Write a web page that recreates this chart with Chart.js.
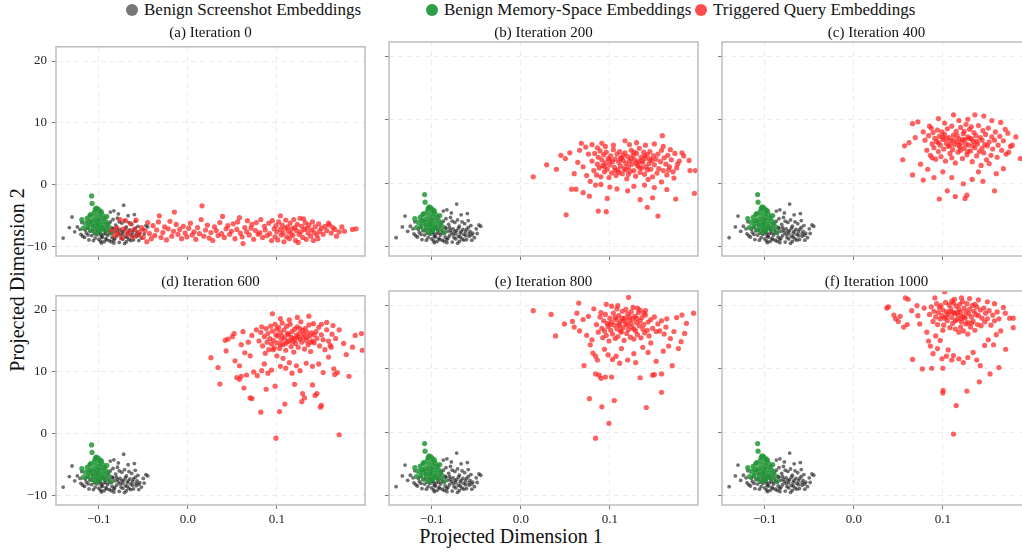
<!DOCTYPE html>
<html>
<head>
<meta charset="utf-8">
<script src="https://cdn.jsdelivr.net/npm/chart.js@4.4.1/dist/chart.umd.min.js"></script>
<style>
html,body{margin:0;padding:0;width:1022px;height:552px;overflow:hidden;background:#fff;}
body{position:relative;font-family:"Liberation Serif","DejaVu Serif",serif;color:#111;}
canvas{position:absolute;}
.ttl{position:absolute;font-size:15px;white-space:nowrap;transform:translate(-50%,-50%);}
.leg{position:absolute;top:1px;height:18px;display:flex;align-items:center;font-size:17px;white-space:nowrap;}
.leg span.dot{display:inline-block;width:12px;height:12px;border-radius:50%;margin-right:6px;}
.axl{position:absolute;font-size:20px;white-space:nowrap;transform:translate(-50%,-50%);}
</style>
</head>
<body>
<script>
// ---------------- data ----------------
const legendLabels = ["Benign Screenshot Embeddings", "Benign Memory-Space Embeddings", "Triggered Query Embeddings"];
const panelTitles = ["(a) Iteration 0", "(b) Iteration 200", "(c) Iteration 400", "(d) Iteration 600", "(e) Iteration 800", "(f) Iteration 1000"];
const xTickValues = [-0.1, 0.0, 0.1];
const yTickValues = [-10, 0, 10, 20];
const xLabel = "Projected Dimension 1";
const yLabel = "Projected Dimension 2";

const benignScreenshot = [[-0.140,-8.6],[-0.133,-6.9],[-0.130,-5.2],[-0.124,-6.8],[-0.127,-7.6],[-0.121,-7.2],[-0.118,-8.3],[-0.116,-8.5],[-0.119,-6.1],[-0.114,-7.8],[-0.112,-7.0],[-0.111,-8.9],[-0.110,-7.5],[-0.108,-8.2],[-0.107,-6.6],[-0.106,-9.0],[-0.105,-7.9],[-0.104,-8.6],[-0.103,-7.3],[-0.102,-8.1],[-0.101,-6.4],[-0.100,-8.8],[-0.099,-7.7],[-0.098,-9.1],[-0.097,-8.4],[-0.096,-7.0],[-0.095,-8.0],[-0.094,-9.2],[-0.093,-7.5],[-0.092,-8.7],[-0.091,-6.8],[-0.090,-8.2],[-0.089,-7.4],[-0.088,-9.0],[-0.087,-6.0],[-0.086,-7.9],[-0.085,-8.5],[-0.084,-7.1],[-0.083,-4.2],[-0.083,-8.9],[-0.082,-7.6],[-0.081,-6.5],[-0.080,-8.3],[-0.079,-5.4],[-0.078,-7.8],[-0.077,-9.3],[-0.076,-7.2],[-0.075,-8.6],[-0.074,-6.2],[-0.073,-8.0],[-0.072,-3.3],[-0.072,-7.5],[-0.071,-9.5],[-0.070,-8.4],[-0.069,-6.8],[-0.068,-7.9],[-0.067,-5.0],[-0.066,-8.8],[-0.065,-7.3],[-0.064,-8.1],[-0.063,-6.4],[-0.062,-7.7],[-0.061,-8.9],[-0.060,-4.8],[-0.059,-7.0],[-0.058,-8.4],[-0.057,-7.6],[-0.056,-6.7],[-0.055,-8.2],[-0.054,-7.9],[-0.052,-8.6],[-0.050,-7.2],[-0.049,-7.95],[-0.047,-6.6],[-0.045,-6.8],[-0.098,-8.0],[-0.094,-7.2],[-0.091,-8.9],[-0.088,-7.8],[-0.085,-7.0],[-0.082,-8.7],[-0.079,-7.4],[-0.076,-8.1],[-0.073,-8.8],[-0.070,-7.1],[-0.067,-7.6],[-0.064,-9.0],[-0.061,-7.3],[-0.058,-8.0],[-0.096,-8.5],[-0.092,-7.9],[-0.086,-9.2],[-0.080,-7.0],[-0.074,-7.6],[-0.068,-8.5],[-0.062,-8.3],[-0.107,-7.4],[-0.112,-8.1],[-0.101,-7.6],[-0.089,-6.3],[-0.077,-6.0],[-0.071,-5.8],[-0.084,-5.6],[-0.066,-6.1],[-0.059,-5.9],[-0.100,-5.7],[-0.093,-5.3],[-0.109,-6.0],[-0.120,-8.0],[-0.115,-7.3],[-0.097,-9.4],[-0.083,-9.4],[-0.069,-9.2],[-0.055,-9.0],[-0.078,-4.7],[-0.087,-4.4]];

const benignMemory = [[-0.108,-1.8],[-0.1075,-3.0],[-0.103,-3.75],[-0.101,-3.9],[-0.0985,-4.2],[-0.105,-4.5],[-0.100,-4.7],[-0.096,-4.9],[-0.110,-5.0],[-0.104,-5.2],[-0.099,-5.3],[-0.094,-5.5],[-0.119,-5.6],[-0.113,-5.4],[-0.107,-5.7],[-0.102,-5.8],[-0.097,-5.9],[-0.092,-6.0],[-0.115,-6.2],[-0.110,-6.3],[-0.105,-6.1],[-0.100,-6.4],[-0.095,-6.5],[-0.090,-6.3],[-0.112,-6.8],[-0.106,-6.9],[-0.101,-7.0],[-0.096,-6.9],[-0.088,-6.9],[-0.108,-7.4],[-0.099,-7.5],[-0.093,-7.3],[-0.103,-7.8],[-0.086,-7.7],[-0.117,-7.0],[-0.104,-4.0],[-0.097,-4.4],[-0.109,-4.8],[-0.091,-5.1],[-0.103,-6.6],[-0.098,-7.2],[-0.111,-5.9]];

const triggeredIter0 = [[-0.085,-7.4],[-0.082,-8.2],[-0.080,-6.9],[-0.078,-7.8],[-0.076,-5.6],[-0.074,-8.6],[-0.072,-7.1],[-0.070,-5.8],[-0.068,-8.0],[-0.066,-7.5],[-0.064,-6.3],[-0.062,-8.4],[-0.060,-7.2],[-0.058,-5.7],[-0.056,-8.1],[-0.054,-7.6],[-0.052,-6.9],[-0.050,-8.5],[-0.048,-7.4],[-0.046,-9.2],[-0.045,-6.1],[-0.043,-7.9],[-0.041,-8.7],[-0.039,-6.6],[-0.037,-8.2],[-0.035,-7.3],[-0.033,-6.0],[-0.032,-5.0],[-0.030,-8.5],[-0.028,-7.7],[-0.026,-6.8],[-0.024,-8.9],[-0.022,-7.1],[-0.020,-5.9],[-0.018,-8.3],[-0.016,-7.5],[-0.015,-4.4],[-0.013,-6.4],[-0.011,-8.0],[-0.009,-7.2],[-0.007,-8.7],[-0.005,-6.7],[-0.003,-7.8],[-0.001,-8.4],[0.001,-7.0],[0.003,-6.2],[0.005,-8.1],[0.007,-7.6],[0.009,-8.8],[0.011,-6.9],[0.013,-7.9],[0.015,-5.6],[0.016,-3.4],[0.018,-8.3],[0.020,-7.3],[0.022,-6.5],[0.024,-8.6],[0.026,-7.7],[0.028,-9.0],[0.030,-6.8],[0.032,-7.4],[0.034,-8.2],[0.036,-6.1],[0.038,-7.9],[0.039,-5.1],[0.041,-8.5],[0.043,-7.1],[0.045,-6.6],[0.047,-8.0],[0.049,-7.5],[0.051,-6.3],[0.053,-8.7],[0.055,-7.2],[0.056,-6.0],[0.058,-5.3],[0.059,-7.8],[0.061,-8.4],[0.062,-9.5],[0.064,-6.9],[0.066,-7.6],[0.067,-5.8],[0.069,-8.1],[0.071,-7.0],[0.072,-6.4],[0.074,-8.8],[0.076,-7.4],[0.077,-6.1],[0.079,-8.0],[0.081,-7.7],[0.082,-5.6],[0.084,-8.5],[0.086,-6.7],[0.087,-7.3],[0.089,-8.2],[0.091,-6.2],[0.092,-7.9],[0.094,-9.0],[0.095,-5.8],[0.097,-7.1],[0.098,-8.4],[0.099,-6.6],[0.100,-7.6],[0.101,-8.9],[0.102,-6.0],[0.104,-5.0],[0.104,-7.2],[0.105,-8.1],[0.106,-6.5],[0.107,-7.8],[0.108,-9.2],[0.109,-7.0],[0.110,-5.7],[0.111,-8.4],[0.112,-6.8],[0.113,-7.5],[0.114,-8.7],[0.115,-6.2],[0.116,-7.9],[0.117,-7.1],[0.118,-8.2],[0.119,-5.6],[0.120,-6.9],[0.121,-9.0],[0.122,-7.4],[0.123,-6.4],[0.124,-9.3],[0.125,-8.0],[0.126,-5.4],[0.127,-7.6],[0.128,-6.7],[0.129,-8.5],[0.130,-5.5],[0.131,-7.2],[0.132,-6.1],[0.133,-8.8],[0.134,-7.0],[0.135,-7.8],[0.136,-6.5],[0.138,-8.3],[0.139,-7.3],[0.140,-6.0],[0.141,-9.0],[0.142,-7.7],[0.143,-6.8],[0.145,-8.1],[0.146,-8.7],[0.147,-6.3],[0.148,-7.5],[0.150,-7.0],[0.152,-8.0],[0.154,-6.7],[0.156,-7.4],[0.158,-6.2],[0.159,-6.5],[0.161,-7.8],[0.163,-6.9],[0.165,-7.2],[0.167,-8.3],[0.170,-7.6],[0.173,-6.8],[0.176,-7.5],[0.185,-7.2],[0.189,-7.1]];

const triggeredIter200 = [[0.014,1.0],[0.029,2.9],[0.040,2.2],[0.051,-5.0],[0.057,-0.95],[0.062,-0.95],[0.068,6.3],[0.080,6.1],[0.091,6.3],[0.117,6.7],[0.159,7.5],[0.181,4.8],[0.189,3.6],[0.190,2.0],[0.196,2.0],[0.195,-1.6],[0.174,-2.5],[0.154,-5.2],[0.142,-3.8],[0.087,-4.4],[0.096,-4.5],[0.097,-2.4],[0.077,-2.05],[0.070,-1.5],[0.134,-2.6],[0.148,-2.3],[0.164,-1.0],[0.172,0.8],[0.183,4.3],[0.050,3.9],[0.045,4.4],[0.055,4.8],[0.060,1.5],[0.064,3.3],[0.066,5.2],[0.073,5.7],[0.078,0.3],[0.084,-0.3],[0.090,-0.2],[0.100,-0.6],[0.108,-0.9],[0.120,-1.2],[0.127,-0.5],[0.139,-0.3],[0.150,-0.7],[0.158,0.2],[0.166,2.1],[0.176,3.0],[0.168,5.3],[0.160,5.8],[0.150,6.2],[0.140,6.0],[0.130,6.4],[0.122,6.1],[0.104,6.0],[0.095,5.8],[0.086,5.6],[0.076,4.6],[0.070,2.6],[0.074,1.2],[0.080,3.5],[0.082,2.0],[0.083,4.7],[0.085,1.3],[0.086,3.0],[0.087,4.1],[0.088,2.4],[0.089,5.1],[0.090,1.0],[0.091,3.7],[0.092,2.8],[0.093,4.5],[0.094,1.8],[0.095,3.2],[0.096,4.9],[0.097,2.2],[0.098,3.9],[0.099,0.9],[0.100,2.9],[0.101,4.3],[0.102,1.6],[0.103,3.4],[0.104,5.3],[0.105,2.5],[0.106,3.8],[0.107,1.2],[0.108,4.6],[0.109,2.1],[0.110,3.3],[0.111,5.0],[0.112,2.7],[0.113,4.0],[0.114,1.5],[0.115,3.6],[0.116,2.3],[0.117,4.8],[0.118,3.1],[0.119,0.7],[0.120,4.2],[0.121,2.6],[0.122,3.5],[0.123,1.9],[0.124,5.2],[0.125,3.0],[0.126,4.4],[0.127,2.0],[0.128,3.7],[0.129,1.1],[0.130,4.7],[0.131,2.8],[0.132,3.4],[0.133,5.5],[0.134,1.7],[0.135,4.1],[0.136,2.4],[0.137,3.2],[0.138,4.9],[0.139,1.4],[0.140,3.9],[0.141,2.6],[0.142,4.5],[0.143,0.6],[0.144,3.1],[0.145,5.0],[0.146,2.2],[0.147,3.6],[0.148,1.0],[0.149,4.3],[0.150,2.9],[0.152,3.8],[0.153,1.6],[0.154,4.6],[0.155,2.3],[0.157,3.4],[0.158,5.2],[0.160,2.0],[0.161,4.0],[0.163,3.0],[0.164,1.3],[0.165,4.4],[0.167,2.6],[0.169,3.7],[0.171,1.8],[0.173,4.7],[0.175,2.4],[0.178,3.5],[0.106,2.0],[0.112,3.9],[0.118,2.1],[0.124,3.9],[0.130,3.2],[0.136,3.6],[0.142,2.1],[0.100,3.6],[0.094,2.6],[0.115,4.4],[0.127,4.9],[0.121,1.4],[0.133,2.5],[0.110,1.7],[0.139,4.3],[0.145,3.8]];

const triggeredIter400 = [[0.055,3.7],[0.057,5.9],[0.066,1.3],[0.078,0.5],[0.066,9.4],[0.072,9.7],[0.096,-2.5],[0.114,-2.1],[0.125,-2.4],[0.127,-1.9],[0.105,-1.2],[0.158,-1.2],[0.112,10.8],[0.136,10.8],[0.146,10.6],[0.182,7.3],[0.187,3.9],[0.174,4.9],[0.168,2.3],[0.145,0.3],[0.123,-0.1],[0.090,0.9],[0.100,1.8],[0.133,0.6],[0.160,1.5],[0.170,8.5],[0.165,9.6],[0.155,9.9],[0.095,10.2],[0.085,9.0],[0.078,8.1],[0.069,7.2],[0.062,6.4],[0.075,3.0],[0.083,2.2],[0.088,4.0],[0.110,0.9],[0.140,1.8],[0.152,3.1],[0.178,6.0],[0.080,6.8],[0.082,5.2],[0.084,7.5],[0.086,4.4],[0.088,6.2],[0.089,8.0],[0.090,5.6],[0.091,7.1],[0.092,3.8],[0.093,6.6],[0.094,8.4],[0.095,5.0],[0.096,7.4],[0.097,6.0],[0.098,4.2],[0.099,8.1],[0.100,6.9],[0.101,5.4],[0.102,7.7],[0.103,3.5],[0.104,6.3],[0.105,8.6],[0.106,5.8],[0.107,7.2],[0.108,4.7],[0.109,6.7],[0.110,9.0],[0.111,5.3],[0.112,7.6],[0.113,6.1],[0.114,3.2],[0.115,8.2],[0.116,6.5],[0.117,4.9],[0.118,7.0],[0.119,5.7],[0.120,8.8],[0.121,6.4],[0.122,3.9],[0.123,7.8],[0.124,5.5],[0.125,6.9],[0.126,9.3],[0.127,4.5],[0.128,7.3],[0.129,6.0],[0.130,8.5],[0.131,5.1],[0.132,7.0],[0.133,3.4],[0.134,6.6],[0.135,8.0],[0.136,5.6],[0.137,7.5],[0.138,4.3],[0.139,6.2],[0.140,9.1],[0.141,5.0],[0.142,7.2],[0.143,2.8],[0.144,6.8],[0.145,8.3],[0.146,4.8],[0.147,6.1],[0.148,7.7],[0.149,3.7],[0.150,5.9],[0.151,8.7],[0.152,6.5],[0.154,4.4],[0.155,7.3],[0.156,5.4],[0.158,6.8],[0.159,8.1],[0.161,4.1],[0.162,6.0],[0.164,7.4],[0.166,5.2],[0.168,6.7],[0.171,4.6],[0.173,7.9],[0.176,5.8],[0.108,6.0],[0.112,6.8],[0.118,6.0],[0.122,6.9],[0.126,6.2],[0.130,7.1],[0.134,5.9],[0.138,6.6],[0.116,7.5],[0.120,5.2],[0.124,8.2],[0.128,5.0],[0.100,7.3],[0.104,7.0],[0.095,6.4],[0.132,8.9],[0.144,5.5],[0.110,4.0],[0.102,9.5],[0.118,9.9],[0.128,10.1],[0.087,8.7]];

const triggeredIter600 = [[0.095,19.4],[0.123,18.8],[0.026,12.3],[0.034,10.7],[0.036,8.05],[0.043,13.4],[0.042,15.1],[0.045,15.3],[0.072,5.7],[0.082,3.5],[0.103,3.6],[0.099,-0.7],[0.170,-0.15],[0.149,4.3],[0.150,4.6],[0.195,16.2],[0.196,13.5],[0.181,9.3],[0.168,9.9],[0.165,9.6],[0.143,6.2],[0.145,6.5],[0.128,5.2],[0.131,5.8],[0.140,7.9],[0.129,6.5],[0.055,9.1],[0.058,8.8],[0.058,11.0],[0.060,9.3],[0.063,7.4],[0.066,9.5],[0.070,5.8],[0.074,10.0],[0.078,9.4],[0.083,10.2],[0.086,11.3],[0.090,9.8],[0.094,10.3],[0.098,7.7],[0.104,10.9],[0.107,12.2],[0.110,10.6],[0.114,11.5],[0.117,9.8],[0.122,11.0],[0.126,10.2],[0.133,11.4],[0.140,10.9],[0.147,11.3],[0.152,9.9],[0.158,12.4],[0.164,10.5],[0.178,12.8],[0.188,15.9],[0.175,14.6],[0.185,14.0],[0.064,13.1],[0.070,12.6],[0.087,13.0],[0.100,12.6],[0.096,13.6],[0.068,14.8],[0.052,16.2],[0.050,15.7],[0.062,16.5],[0.072,15.9],[0.060,14.4],[0.053,11.8],[0.088,7.2],[0.120,8.0],[0.109,4.8],[0.161,14.0],[0.170,16.8],[0.163,17.5],[0.156,18.0],[0.150,17.7],[0.136,19.0],[0.114,18.4],[0.104,18.6],[0.083,17.3],[0.077,16.8],[0.080,15.0],[0.082,16.4],[0.084,14.2],[0.086,15.7],[0.088,17.0],[0.089,14.8],[0.090,16.2],[0.091,13.6],[0.092,15.4],[0.093,17.4],[0.094,14.5],[0.095,16.6],[0.096,15.1],[0.097,13.9],[0.098,17.7],[0.099,16.0],[0.100,14.7],[0.101,15.8],[0.102,17.2],[0.103,13.8],[0.104,16.4],[0.105,15.2],[0.106,17.9],[0.107,14.4],[0.108,16.8],[0.109,15.5],[0.110,13.5],[0.111,17.4],[0.112,14.9],[0.113,16.1],[0.114,15.0],[0.115,17.7],[0.116,14.1],[0.117,16.5],[0.118,15.4],[0.119,13.2],[0.120,16.9],[0.121,14.6],[0.122,15.9],[0.123,17.3],[0.124,14.0],[0.125,16.2],[0.126,15.3],[0.127,18.1],[0.128,14.8],[0.129,16.7],[0.130,15.6],[0.131,13.7],[0.132,17.0],[0.133,15.1],[0.134,16.4],[0.135,14.4],[0.136,17.6],[0.137,15.8],[0.138,13.3],[0.139,16.3],[0.140,15.0],[0.141,17.8],[0.142,14.7],[0.144,16.5],[0.145,15.4],[0.147,17.2],[0.148,14.2],[0.150,16.0],[0.152,15.2],[0.154,13.6],[0.156,16.8],[0.158,15.0],[0.160,14.3],[0.162,16.1],[0.166,15.4],[0.106,15.8],[0.112,16.2],[0.118,14.9],[0.124,15.6],[0.130,16.1],[0.120,15.3],[0.110,14.6],[0.100,16.9],[0.126,17.0],[0.134,15.6],[0.142,16.0],[0.116,15.6],[0.104,14.4],[0.138,14.8]];

const triggeredIter800 = [[0.014,19.2],[0.034,18.6],[0.049,17.1],[0.039,15.2],[0.065,20.4],[0.121,21.3],[0.194,18.8],[0.180,14.3],[0.177,13.2],[0.170,10.5],[0.158,6.3],[0.141,3.9],[0.099,1.4],[0.084,-0.95],[0.091,4.0],[0.105,5.0],[0.077,5.3],[0.071,10.5],[0.084,9.2],[0.090,8.5],[0.088,9.0],[0.095,8.7],[0.102,8.7],[0.134,8.6],[0.148,9.0],[0.150,9.1],[0.158,9.2],[0.060,16.6],[0.058,17.5],[0.063,18.8],[0.066,16.0],[0.070,17.8],[0.074,15.3],[0.076,18.3],[0.078,13.8],[0.080,14.6],[0.081,12.5],[0.084,12.0],[0.086,11.4],[0.098,12.2],[0.103,11.5],[0.107,12.0],[0.111,10.9],[0.120,11.4],[0.127,12.4],[0.129,11.0],[0.143,12.6],[0.152,11.2],[0.160,12.8],[0.166,13.6],[0.172,15.9],[0.168,14.8],[0.163,16.6],[0.186,17.2],[0.184,15.6],[0.175,18.1],[0.181,18.5],[0.140,19.2],[0.131,19.6],[0.096,20.2],[0.109,20.0],[0.102,19.9],[0.082,19.5],[0.090,18.9],[0.094,13.1],[0.113,13.2],[0.137,13.4],[0.146,14.1],[0.085,17.0],[0.087,15.8],[0.089,18.2],[0.091,16.4],[0.092,14.9],[0.093,17.6],[0.094,16.0],[0.095,18.6],[0.096,15.3],[0.097,17.2],[0.098,16.7],[0.099,14.4],[0.100,18.0],[0.101,16.1],[0.102,17.4],[0.103,15.5],[0.104,18.8],[0.105,16.9],[0.106,14.8],[0.107,17.8],[0.108,16.3],[0.109,15.1],[0.110,18.4],[0.111,16.8],[0.112,17.5],[0.113,15.8],[0.114,19.1],[0.115,16.5],[0.116,14.5],[0.117,18.0],[0.118,17.1],[0.119,15.6],[0.120,18.7],[0.121,16.2],[0.122,17.7],[0.123,15.0],[0.124,19.0],[0.125,16.6],[0.126,17.9],[0.127,14.7],[0.128,18.3],[0.129,16.0],[0.130,17.3],[0.131,15.4],[0.132,18.9],[0.133,16.8],[0.134,17.6],[0.135,14.9],[0.136,18.1],[0.137,16.3],[0.138,17.0],[0.139,15.7],[0.140,18.5],[0.142,16.1],[0.143,17.4],[0.144,15.2],[0.146,17.8],[0.148,16.4],[0.150,18.2],[0.152,15.9],[0.154,17.1],[0.156,16.0],[0.158,17.6],[0.161,15.5],[0.164,17.9],[0.110,17.1],[0.116,17.6],[0.122,18.2],[0.118,19.4],[0.106,18.1],[0.124,17.2],[0.130,18.0],[0.112,16.0],[0.127,16.3],[0.134,19.3],[0.100,17.0],[0.120,16.9],[0.114,18.0],[0.108,19.5],[0.126,19.7],[0.138,18.8]];

const triggeredIter1000 = [[0.102,22.2],[0.037,19.6],[0.039,19.8],[0.058,21.2],[0.091,21.2],[0.045,18.5],[0.047,17.9],[0.052,18.3],[0.050,17.5],[0.056,16.6],[0.066,11.5],[0.077,10.0],[0.0875,10.1],[0.100,10.1],[0.1003,6.6],[0.100,6.2],[0.115,4.2],[0.112,-0.3],[0.127,6.5],[0.141,7.95],[0.153,9.2],[0.163,10.2],[0.1705,13.1],[0.179,18.0],[0.179,16.5],[0.175,18.0],[0.168,19.7],[0.061,21.0],[0.065,19.2],[0.060,17.0],[0.072,18.4],[0.074,17.1],[0.071,20.0],[0.079,19.6],[0.082,15.8],[0.084,14.4],[0.086,13.6],[0.089,12.4],[0.094,13.2],[0.099,11.6],[0.104,12.0],[0.110,11.4],[0.112,12.1],[0.118,11.6],[0.123,11.0],[0.128,11.8],[0.134,12.6],[0.138,11.4],[0.142,10.5],[0.147,13.7],[0.151,14.6],[0.157,13.8],[0.160,15.4],[0.165,16.0],[0.163,17.9],[0.170,18.8],[0.158,20.3],[0.150,20.6],[0.140,20.9],[0.130,21.1],[0.121,21.2],[0.113,21.0],[0.106,13.0],[0.097,14.5],[0.092,15.2],[0.100,16.1],[0.085,18.6],[0.087,19.8],[0.089,17.5],[0.090,19.1],[0.092,18.2],[0.093,20.3],[0.094,17.0],[0.095,18.9],[0.096,19.7],[0.097,17.9],[0.098,20.0],[0.099,18.4],[0.100,19.3],[0.101,16.9],[0.102,18.0],[0.103,20.5],[0.104,19.0],[0.105,17.6],[0.106,18.7],[0.107,20.1],[0.108,16.5],[0.109,19.5],[0.110,18.1],[0.111,17.2],[0.112,20.4],[0.113,18.8],[0.114,16.3],[0.115,19.9],[0.116,17.8],[0.117,18.5],[0.118,15.8],[0.119,20.2],[0.120,19.0],[0.121,17.4],[0.122,18.3],[0.123,16.0],[0.124,19.6],[0.125,18.0],[0.126,17.1],[0.127,20.3],[0.128,15.5],[0.129,18.7],[0.130,19.4],[0.131,16.6],[0.132,18.2],[0.133,20.0],[0.134,17.5],[0.135,19.1],[0.136,16.1],[0.137,18.6],[0.138,19.8],[0.139,17.0],[0.140,18.4],[0.142,19.3],[0.143,16.8],[0.144,18.0],[0.146,19.6],[0.147,17.4],[0.148,18.8],[0.150,17.9],[0.152,19.2],[0.154,16.9],[0.156,18.5],[0.158,17.6],[0.161,19.0],[0.112,18.9],[0.118,19.4],[0.124,18.2],[0.116,18.9],[0.120,17.9],[0.126,19.0],[0.108,19.0],[0.114,17.6],[0.122,20.6],[0.132,17.2],[0.104,18.2],[0.128,17.3],[0.110,20.7],[0.136,20.2],[0.120,16.6]];

const triggeredByPanel = [triggeredIter0, triggeredIter200, triggeredIter400, triggeredIter600, triggeredIter800, triggeredIter1000];

// ---------------- layout / style ----------------
const X_MIN = -0.148, X_MAX = 0.199, Y_MIN = -11.5, Y_MAX = 22.3;
const colLeft = [56, 389, 722], rowTop = [42, 291];
const PW = 309, PH = 214;
const PAD_L = 52, PAD_T = 8, PAD_R = 8, PAD_B = 32;
const FONT = '"Liberation Serif","DejaVu Serif",serif';
const colors = {
  gray: 'rgba(25,25,25,0.62)', grayLeg: '#777777',
  green: 'rgba(34,150,55,0.85)', greenLeg: '#2e9e48',
  red: 'rgba(255,35,35,0.72)', redLeg: '#ff4d4d'
};
const toPts = arr => arr.map(p => ({x: p[0], y: p[1]}));
const minus = s => String(s).replace('-', '\u2212');

// legend
const legendPos = [132, 432, 701];
const legColors = [colors.grayLeg, colors.greenLeg, colors.redLeg];
legendLabels.forEach((t, i) => {
  const d = document.createElement('div');
  d.className = 'leg';
  d.style.left = (legendPos[i] - 6) + 'px';
  d.innerHTML = '<span class="dot" style="background:' + legColors[i] + '"></span>' + t;
  document.body.appendChild(d);
});

// axis labels
const xl = document.createElement('div'); xl.className = 'axl'; xl.textContent = xLabel;
xl.style.left = '511px'; xl.style.top = '536px'; document.body.appendChild(xl);
const yl = document.createElement('div'); yl.className = 'axl'; yl.textContent = yLabel;
yl.style.left = '17px'; yl.style.top = '280px'; yl.style.transform = 'translate(-50%,-50%) rotate(-90deg)';
document.body.appendChild(yl);

const framePlugin = {
  id: 'frame',
  afterDraw(chart) {
    const {ctx, chartArea: a} = chart;
    ctx.save();
    ctx.strokeStyle = '#bdbdbd';
    ctx.lineWidth = 1.5;
    ctx.strokeRect(a.left, a.top, a.right - a.left, a.bottom - a.top);
    ctx.restore();
  }
};

for (let i = 0; i < 6; i++) {
  const row = Math.floor(i / 3), col = i % 3;
  const L = colLeft[col], T = rowTop[row];
  const cv = document.createElement('canvas');
  cv.width = PW + PAD_L + PAD_R; cv.height = PH + PAD_T + PAD_B;
  cv.style.left = (L - PAD_L) + 'px'; cv.style.top = (T - PAD_T) + 'px';
  document.body.appendChild(cv);

  const t = document.createElement('div');
  t.className = 'ttl'; t.textContent = panelTitles[i];
  t.style.left = (L + PW / 2) + 'px'; t.style.top = (T - 10) + 'px';
  document.body.appendChild(t);

  new Chart(cv, {
    type: 'scatter',
    data: {
      datasets: [
        {label: legendLabels[2], data: toPts(triggeredByPanel[i]), backgroundColor: colors.red, pointRadius: 2.6, borderWidth: 0, order: 1},
        {label: legendLabels[1], data: toPts(benignMemory), backgroundColor: colors.green, pointRadius: 2.6, borderWidth: 0, order: 2},
        {label: legendLabels[0], data: toPts(benignScreenshot), backgroundColor: colors.gray, pointRadius: 1.9, borderWidth: 0, order: 3}
      ]
    },
    options: {
      responsive: false, animation: false, devicePixelRatio: 1,
      layout: {padding: {top: PAD_T, right: PAD_R, left: 0, bottom: 0}},
      plugins: {legend: {display: false}, tooltip: {enabled: false}, title: {display: false}},
      scales: {
        x: {
          type: 'linear', min: X_MIN, max: X_MAX,
          afterBuildTicks: s => { s.ticks = xTickValues.map(v => ({value: v})); },
          afterFit: s => { s.height = PAD_B; },
          ticks: {display: row === 1, font: {family: FONT, size: 13}, color: '#222', padding: 3,
                  callback: v => minus(Number(v).toFixed(1))},
          grid: {color: 'rgba(0,0,0,0.07)', tickColor: '#777', tickLength: 4, lineWidth: 1},
          border: {display: false, dash: [5, 4]}
        },
        y: {
          type: 'linear', min: Y_MIN, max: Y_MAX,
          afterBuildTicks: s => { s.ticks = yTickValues.map(v => ({value: v})); },
          afterFit: s => { s.width = PAD_L; },
          ticks: {display: col === 0, font: {family: FONT, size: 13}, color: '#222', padding: 5,
                  callback: v => minus(v)},
          grid: {color: 'rgba(0,0,0,0.07)', tickColor: '#777', tickLength: 4, lineWidth: 1},
          border: {display: false, dash: [5, 4]}
        }
      }
    },
    plugins: [framePlugin]
  });
}
</script>
</body>
</html>
